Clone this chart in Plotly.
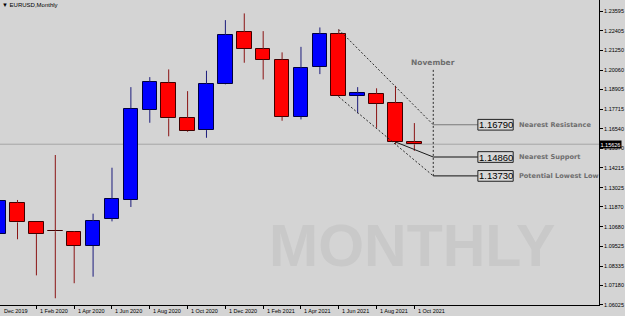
import plotly.graph_objects as go

# ---------------- data ----------------
months = ["Dec 2019", "Jan 2020", "Feb 2020", "Mar 2020", "Apr 2020", "May 2020",
          "Jun 2020", "Jul 2020", "Aug 2020", "Sep 2020", "Oct 2020", "Nov 2020",
          "Dec 2020", "Jan 2021", "Feb 2021", "Mar 2021", "Apr 2021", "May 2021",
          "Jun 2021", "Jul 2021", "Aug 2021", "Sep 2021", "Oct 2021"]
opens = [1.1024, 1.1212, 1.1099, 1.1044, 1.1037, 1.0954, 1.1117, 1.1230, 1.1769,
         1.1930, 1.1719, 1.1647, 1.1922, 1.2233, 1.2130, 1.2068, 1.1727, 1.2024,
         1.2221, 1.1852, 1.1863, 1.1807, 1.1576]
highs = [1.1239, 1.1229, 1.1099, 1.1498, 1.1043, 1.1147, 1.1422, 1.1904, 1.1964,
         1.2010, 1.1880, 1.2002, 1.2305, 1.2345, 1.2239, 1.2112, 1.2145, 1.2261,
         1.2249, 1.1904, 1.1897, 1.1912, 1.1689]
lows = [1.0982, 1.0994, 1.0778, 1.0641, 1.0731, 1.0770, 1.1101, 1.1187, 1.1691,
        1.1610, 1.1637, 1.1601, 1.1920, 1.2050, 1.1950, 1.1703, 1.1711, 1.1982,
        1.1846, 1.1747, 1.1661, 1.1563, 1.1523]
closes = [1.1223, 1.1095, 1.1025, 1.1042, 1.0954, 1.1103, 1.1235, 1.1775, 1.1936,
          1.1717, 1.1643, 1.1922, 1.2216, 1.2133, 1.2068, 1.1727, 1.2016, 1.2221,
          1.1852, 1.1866, 1.1805, 1.1576, 1.1562]

x_labels = ["Dec 2019", "1 Feb 2020", "1 Apr 2020", "1 Jun 2020", "1 Aug 2020",
            "1 Oct 2020", "1 Dec 2020", "1 Feb 2021", "1 Apr 2021", "1 Jun 2021",
            "1 Aug 2021", "1 Oct 2021"]
x_label_months = ["Dec 2019", "Feb 2020", "Apr 2020", "Jun 2020", "Aug 2020",
                  "Oct 2020", "Dec 2020", "Feb 2021", "Apr 2021", "Jun 2021",
                  "Aug 2021", "Oct 2021"]
y_ticks = [1.06025, 1.07180, 1.08335, 1.09525, 1.10680, 1.11870, 1.13025, 1.14215,
           1.15370, 1.16540, 1.17715, 1.18905, 1.20060, 1.21250, 1.22405, 1.23595]
current_price = 1.15626
level_values = [1.16790, 1.14860, 1.13730]
level_names = ["Nearest Resistance", "Nearest Support", "Potential Lowest Low"]
target_month_label = "November"

# ---------------- styling ----------------
BG = "#d4d4d4"
BULL_FILL, BULL_LINE, BULL_WICK = "#0000ff", "#000040", "#1c1c7c"
BEAR_FILL, BEAR_LINE, BEAR_WICK = "#ff0000", "#400000", "#8a1414"
TXT_GRAY = "#6e6e6e"

xi = list(range(len(months)))
X_MIN, X_MAX = 0.074, 31.77
Y_MIN, Y_MAX = 1.06007, 1.24253

fig = go.Figure()

# wicks
def wick_xy(bull):
    xs, ys = [], []
    for i, o, h, l, c in zip(xi, opens, highs, lows, closes):
        if (c > o) != bull:
            continue
        top, bot = max(o, c), min(o, c)
        xs += [i, i, None, i, i, None]
        ys += [h, top, None, bot, l, None]
    return xs, ys

for bull, col in [(True, BULL_WICK), (False, BEAR_WICK)]:
    wx, wy = wick_xy(bull)
    fig.add_trace(go.Scatter(x=wx, y=wy, mode="lines",
                             line=dict(color=col, width=1), hoverinfo="skip"))

# bodies
for bull, fill, lc in [(True, BULL_FILL, BULL_LINE), (False, BEAR_FILL, BEAR_LINE)]:
    bx, bb, bh = [], [], []
    for i, o, c in zip(xi, opens, closes):
        if (c > o) != bull:
            continue
        bx.append(i)
        bb.append(min(o, c))
        bh.append(abs(c - o))
    fig.add_trace(go.Bar(x=bx, base=bb, y=bh, width=0.77,
                         marker=dict(color=fill, line=dict(color=lc, width=1))))

# trend lines
nov_x = len(months)  # the month after the last bar
jun = months.index("Jun 2021")
sep = months.index("Sep 2021")
fig.add_trace(go.Scatter(x=[jun, nov_x], y=[highs[jun], level_values[0]], mode="lines",
                         line=dict(color="#2a2a2a", width=1, dash="2px,2px")))
fig.add_trace(go.Scatter(x=[jun, nov_x], y=[lows[jun], level_values[2]], mode="lines",
                         line=dict(color="#2a2a2a", width=1, dash="2px,2px")))
fig.add_trace(go.Scatter(x=[sep, nov_x], y=[closes[sep], level_values[1]], mode="lines",
                         line=dict(color="#1a1a1a", width=1)))
fig.add_trace(go.Scatter(x=[nov_x, nov_x], y=[level_values[2], 1.2017], mode="lines",
                         line=dict(color="#2a2a2a", width=1, dash="2px,2px")))

shapes = []
annotations = []

# current price line
shapes.append(dict(type="line", xref="paper", x0=0, x1=1, yref="y",
                   y0=current_price, y1=current_price,
                   line=dict(color="#a6a6a6", width=1), layer="below"))

box_x0, box_x1, txt_x = 25.36, 27.23, 27.41
half_h = 0.0032
for k, (v, name) in enumerate(zip(level_values, level_names)):
    lc = "#7a7a7a" if k == 0 else "#111111"
    shapes.append(dict(type="line", x0=nov_x, x1=box_x0, y0=v, y1=v,
                       line=dict(color=lc, width=1)))
    shapes.append(dict(type="rect", x0=box_x0, x1=box_x1, y0=v - half_h, y1=v + half_h,
                       line=dict(color="#222222", width=1), fillcolor="#d8d8d8"))
    annotations.append(dict(x=(box_x0 + box_x1) / 2, y=v, text=f"{v:.5f}",
                            showarrow=False, xanchor="center", yanchor="middle",
                            font=dict(family="Liberation Sans", size=9.5, color="black")))
    annotations.append(dict(x=txt_x, y=v, text=f"<b>{name}</b>", showarrow=False,
                            xanchor="left", yanchor="middle",
                            font=dict(family="DejaVu Sans", size=6.6, color=TXT_GRAY)))

annotations.append(dict(x=nov_x, y=1.2050, text=f"<b>{target_month_label}</b>",
                        showarrow=False, xanchor="center", yanchor="middle",
                        font=dict(family="DejaVu Sans", size=7.5, color=TXT_GRAY)))

# watermark
annotations.append(dict(xref="paper", yref="paper", x=0.687, y=0.195, text="<b>MONTHLY</b>",
                        showarrow=False, xanchor="center", yanchor="middle",
                        font=dict(family="Liberation Sans", size=59, color="#c9c9c9")))

# chart title
annotations.append(dict(xref="paper", yref="paper", x=0, y=1, text="▼ EURUSD,Monthly",
                        showarrow=False, xanchor="left", yanchor="top",
                        font=dict(family="Liberation Sans", size=6, color="black")))

# x labels (left aligned after the tick)
for lab, m in zip(x_labels, x_label_months):
    pos = months.index(m)
    annotations.append(dict(x=max(pos, X_MIN), y=0, xref="x", yref="paper", text=lab,
                            showarrow=False, xanchor="left", yanchor="top",
                            xshift=2 if pos < X_MIN else 1.5, yshift=-1,
                            font=dict(family="Liberation Sans", size=5.5, color="black")))

# current price label
annotations.append(dict(xref="paper", x=1, y=current_price, text=f"{current_price:.5f}",
                        showarrow=False, xanchor="left", yanchor="middle", xshift=0,
                        bgcolor="black", borderpad=0.5,
                        font=dict(family="Liberation Sans", size=5.5, color="white")))

fig.update_layout(
    width=625, height=316,
    margin=dict(l=0, r=26, t=0, b=11),
    paper_bgcolor=BG, plot_bgcolor=BG,
    showlegend=False, barmode="overlay", bargap=0,
    shapes=shapes, annotations=annotations,
)
fig.update_xaxes(range=[X_MIN, X_MAX], showgrid=False, zeroline=False,
                 showline=True, linecolor="black", linewidth=1,
                 ticks="outside", ticklen=3, tickcolor="black", tickwidth=1,
                 tickvals=[months.index(m) for m in x_label_months],
                 showticklabels=False)
fig.update_yaxes(range=[Y_MIN, Y_MAX], side="right", showgrid=False, zeroline=False,
                 showline=True, linecolor="black", linewidth=1,
                 ticks="outside", ticklen=3, tickcolor="black", tickwidth=1,
                 tickvals=y_ticks, ticktext=[f"{v:.5f}" for v in y_ticks],
                 tickfont=dict(family="Liberation Sans", size=5.5, color="black"))

fig.write_html("out.html")
